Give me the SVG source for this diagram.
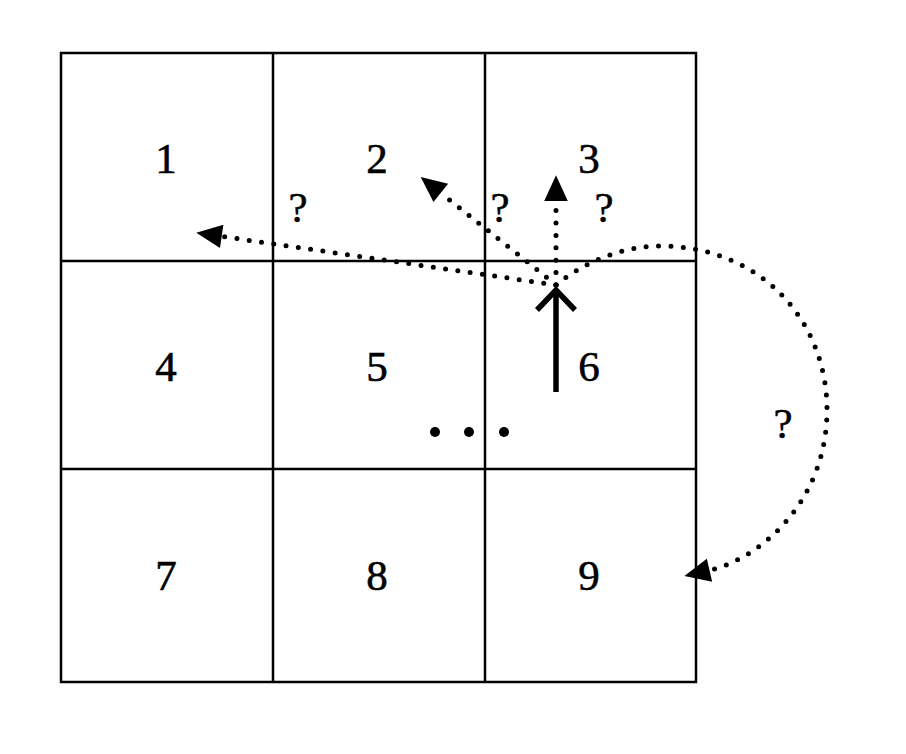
<svg xmlns="http://www.w3.org/2000/svg" width="906" height="754" viewBox="0 0 906 754">
<style>
.grid{fill:none;stroke:#000;stroke-width:2.5}
.num{font-family:"Liberation Serif","Times New Roman",serif;font-size:43px;text-anchor:middle;fill:#000;stroke:#000;stroke-width:0.6}
.q{font-family:"Liberation Serif","Times New Roman",serif;font-size:43px;text-anchor:middle;fill:#000;stroke:#000;stroke-width:0.5}
.dot{fill:none;stroke:#000;stroke-width:5;stroke-linecap:round;stroke-dasharray:0 12.4}
.solid{fill:none;stroke:#000;stroke-width:5.5}
</style>
<defs>
<marker id="ah" markerUnits="userSpaceOnUse" markerWidth="30" markerHeight="30" viewBox="-2 -13 28 26" refX="0" refY="0" orient="auto">
<path d="M24,0 L0,-11 L0,11 Z" fill="#000"/>
</marker>
</defs>
<rect width="906" height="754" fill="#fff"/>
<g id="grid">
<rect class="grid" x="61" y="53" width="635" height="629"/>
<line class="grid" x1="273" y1="53" x2="273" y2="682"/>
<line class="grid" x1="485" y1="53" x2="485" y2="682"/>
<line class="grid" x1="61" y1="261" x2="696" y2="261"/>
<line class="grid" x1="61" y1="469" x2="696" y2="469"/>
</g>
<g id="cell1"><text class="num" x="166" y="173">1</text></g>
<g id="cell2"><text class="num" x="377" y="173">2</text></g>
<g id="cell3"><text class="num" x="589" y="173">3</text></g>
<g id="cell4"><text class="num" x="166" y="381">4</text></g>
<g id="cell5"><text class="num" x="377" y="381">5</text></g>
<g id="cell6"><text class="num" x="589" y="381">6</text></g>
<g id="cell7"><text class="num" x="166" y="590">7</text></g>
<g id="cell8"><text class="num" x="377" y="590">8</text></g>
<g id="cell9"><text class="num" x="589" y="590">9</text></g>
<g id="connectors">
<path class="solid" d="M556,392 L556,291"/>
<path class="solid" d="M537,310 L556,290 L575,310"/>
<path class="dot" d="M556,285 L221.7,236.4" marker-end="url(#ah)"/>
<path class="dot" d="M556,285 Q500,240 440.8,192.9" marker-end="url(#ah)"/>
<path class="dot" d="M556,285 L556,201" marker-end="url(#ah)"/>
<path class="dot" d="M556,285 C580,265 620,246 660,246 C760,246 827,320 827,410 C827,500 762,558 709.5,570.2" marker-end="url(#ah)"/>
</g>
<g id="labels">
<text class="q" x="298" y="222">?</text>
<text class="q" x="500" y="222">?</text>
<text class="q" x="604" y="222">?</text>
<text class="q" x="783" y="438">?</text>
</g>
<g id="ellipsis">
<circle cx="435" cy="432" r="5"/>
<circle cx="469" cy="432" r="5"/>
<circle cx="504" cy="432" r="5"/>
</g>
</svg>
